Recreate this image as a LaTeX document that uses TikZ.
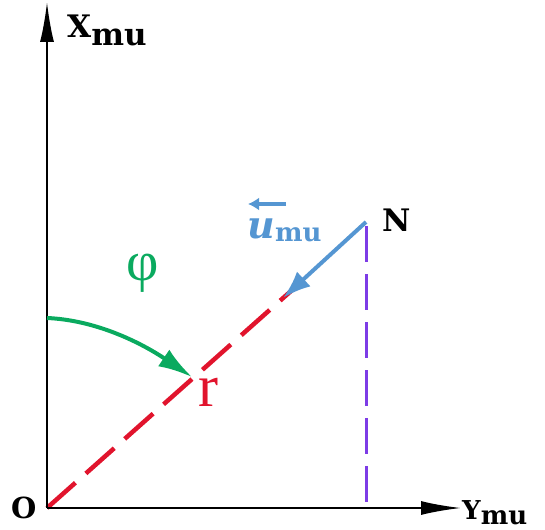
\documentclass[tikz,border=0pt]{standalone}
\usepackage{fontspec}
\setmainfont{DejaVu Serif}
\newfontfamily\timesfont{Liberation Serif}
\usetikzlibrary{arrows.meta}
\definecolor{axred}{RGB}{225,20,45}
\definecolor{axblue}{RGB}{85,150,210}
\definecolor{axgreen}{RGB}{10,170,95}
\definecolor{axpurple}{RGB}{125,60,230}
\tikzset{
  axisline/.style={line width=2pt, -{Latex[length=40pt,width=14pt]}},
  lab/.style={inner sep=0pt, font=\fontsize{31}{34}\selectfont\bfseries},
  reddash/.style={axred, line width=4.5pt, dash pattern=on 38pt off 14pt},
  purpledash/.style={axpurple, line width=3pt, dash pattern=on 36pt off 12pt},
}
\begin{document}
\begin{tikzpicture}[x=1pt,y=-1pt]
\useasboundingbox (0,0) rectangle (545,529);
\coordinate (O) at (47,508);
\coordinate (Xt) at (47,2);
\coordinate (Yt) at (461,508);
\coordinate (N) at (366,222);
\coordinate (Nb) at (366,508);
\coordinate (Re) at (300,283);
\coordinate (Ue) at (283,298);
\coordinate (Gs) at (47,318);
\coordinate (Ge) at (192,377);
% dashed lines
\draw[purpledash] (N) ++(0,4) -- (Nb);
\draw[reddash] (O) -- (Re);
% axes
\draw[axisline] (O) -- (Xt);
\draw[axisline] (O) -- (Yt);
% blue arrow
\draw[axblue, line width=4pt, -{Latex[length=28pt,width=20pt]}] (N) -- (Ue);
% green arc
\draw[axgreen, line width=4pt, -{Latex[length=34pt,width=20pt]}] (Gs) .. controls (95,320) and (140,342) .. (Ge);
% labels
\node[lab, anchor=base west] (xl) at (67,38) {X\raisebox{-8pt}{mu}};
\node[lab, anchor=base west, font=\fontsize{26}{28}\selectfont\bfseries] (yl) at (462,519) {Y\raisebox{-5pt}{mu}};
\node[lab, anchor=base west] (nl) at (382,231) {N};
\node[inner sep=0pt, anchor=base west, font=\fontsize{29}{30}\selectfont\bfseries] (ol) at (11,518) {O};
\node[inner sep=0pt, anchor=base west, text=axred, font=\fontsize{60}{60}\timesfont] (rl) at (198,406) {r};
\node[inner sep=0pt, anchor=base west, text=axgreen, font=\fontsize{56}{58}\timesfont] (pl) at (126,280) {φ};
\node[inner sep=0pt, anchor=base west, text=axblue, font=\fontsize{38}{40}\selectfont\bfseries\itshape] (ul) at (247,238) {u};
\node[inner sep=0pt, anchor=base west, text=axblue, font=\fontsize{26}{28}\selectfont\bfseries] (um) at (ul.base east) {\raisebox{-3pt}{mu}};
\coordinate (ua) at (286,204);
\coordinate (ub) at (248,204);
\draw[axblue, line width=4pt, -{Latex[length=11pt,width=13pt]}] (ua) -- (ub);
\end{tikzpicture}
\end{document}
